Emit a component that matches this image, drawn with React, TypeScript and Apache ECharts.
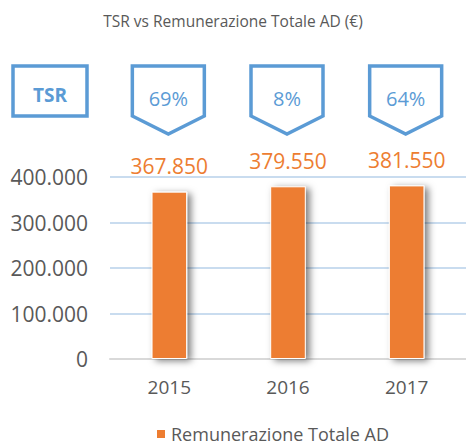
import React, { useEffect, useRef } from "react";
import * as echarts from "echarts";

const categories = ["2015", "2016", "2017"];
const remunerazione = [367850, 379550, 381550];
const tsrLabels = ["69%", "8%", "64%"];
const yTicks = { min: 0, max: 400000, interval: 100000 };

const FONT = "'Open Sans', sans-serif";
const GRAY = "#595959";
const ORANGE = "#ED7D31";
const BLUE = "#5B9BD5";

const fmt = (v: number) =>
  String(Math.round(v)).replace(/\B(?=(\d{3})+(?!\d))/g, ".");

export default function App() {
  const ref = useRef<HTMLDivElement>(null);
  useEffect(() => {
    document.body.style.margin = "0";
    if (!ref.current) return;
    const chart = echarts.init(ref.current, undefined, { renderer: "svg" });
    chart.setOption({
      animation: false,
      textStyle: { fontFamily: FONT },
      title: {
        text: "TSR vs Remunerazione Totale AD (€)",
        left: "center",
        top: 8,
        textStyle: { fontFamily: FONT, fontSize: 15.5, fontWeight: "normal", color: GRAY },
      },
      legend: {
        top: 420,
        left: 150,
        itemWidth: 10,
        itemHeight: 10,
        itemGap: 8,
        icon: "rect",
        textStyle: { fontFamily: FONT, fontSize: 18, color: GRAY },
        data: ["Remunerazione Totale AD"],
      },
      grid: { left: 110, right: -3, top: 177, bottom: 87, containLabel: false },
      xAxis: {
        type: "category",
        data: categories,
        axisTick: { show: false },
        axisLine: { lineStyle: { color: "#d9d9d9", width: 2 } },
        axisLabel: { fontFamily: FONT, fontSize: 19, color: GRAY, margin: 18 },
      },
      yAxis: {
        type: "value",
        min: yTicks.min,
        max: yTicks.max,
        interval: yTicks.interval,
        axisLine: { show: false },
        axisTick: { show: false },
        splitLine: { lineStyle: { color: "#c9dcef", width: 2 } },
        axisLabel: {
          fontFamily: FONT,
          fontSize: 21,
          color: GRAY,
          margin: 22,
          formatter: (v: number) => fmt(v),
        },
      },
      series: [
        {
          name: "Remunerazione Totale AD",
          type: "bar",
          data: remunerazione,
          barWidth: "30%",
          itemStyle: {
            color: ORANGE,
            borderColor: "#ffffff",
            borderWidth: 1,
            shadowColor: "rgba(0,0,0,0.5)",
            shadowBlur: 7,
            shadowOffsetX: 4,
            shadowOffsetY: 2,
          },
          label: {
            show: true,
            position: "top",
            distance: 15,
            fontFamily: FONT,
            fontSize: 21,
            color: ORANGE,
            formatter: (p: any) => fmt(p.value),
          },
        },
      ],
    });

    const xs = categories.map(
      (c) => chart.convertToPixel({ xAxisIndex: 0 }, c) as number
    );
    const top = 66;
    const side = 116;
    const tip = 134;
    const half = 36;
    const graphics: any[] = [
      {
        type: "rect",
        shape: { x: 13, y: 66, width: 74, height: 50 },
        style: { fill: "#ffffff", stroke: BLUE, lineWidth: 3.5 },
      },
      {
        type: "text",
        x: 50,
        y: 95,
        style: {
          text: "TSR",
          fill: BLUE,
          font: `bold 19px ${FONT}`,
          align: "center",
          verticalAlign: "middle",
        },
      },
    ];
    xs.forEach((x, i) => {
      const cx = x - 1;
      graphics.push({
        type: "polygon",
        shape: {
          points: [
            [cx - half, top],
            [cx + half, top],
            [cx + half, side],
            [cx, tip],
            [cx - half, side],
          ],
        },
        style: { fill: "#ffffff", stroke: BLUE, lineWidth: 3.5 },
      });
      graphics.push({
        type: "text",
        x: cx,
        y: 98,
        style: {
          text: tsrLabels[i],
          fill: BLUE,
          font: `20px ${FONT}`,
          align: "center",
          verticalAlign: "middle",
        },
      });
    });
    chart.setOption({ graphic: graphics });

    return () => chart.dispose();
  }, []);
  return <div ref={ref} style={{ width: 466, height: 446 }} />;
}
